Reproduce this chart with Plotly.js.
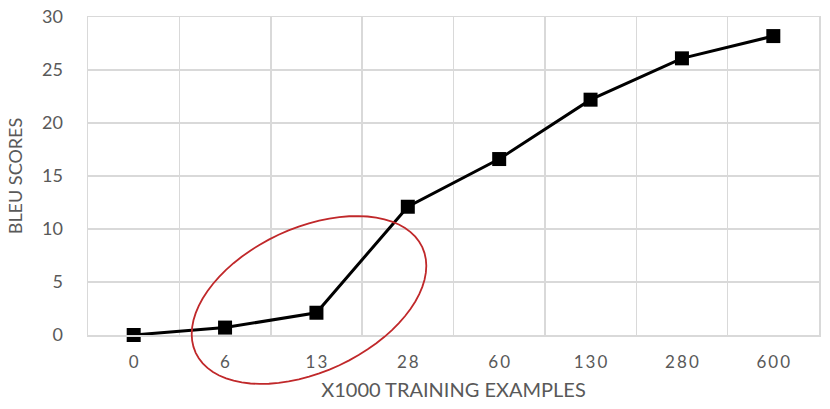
<!DOCTYPE html>
<html>
<head>
<meta charset="utf-8">
<script src="https://cdn.plot.ly/plotly-3.0.1.min.js"></script>
<style>html,body{margin:0;padding:0;background:#fff;}#chart{width:830px;height:409px;}</style>
</head>
<body>
<div id="chart"></div>
<script>
const categories = ["0", "6", "13", "28", "60", "130", "280", "600"];
const bleuScores = [0.0, 0.7, 2.1, 12.1, 16.6, 22.2, 26.1, 28.2];
const yTickValues = [0, 5, 10, 15, 20, 25, 30];
const xTitle = "X1000 TRAINING EXAMPLES";
const yTitle = "BLEU SCORES";

// spaced tick labels, as in the reference image
const tickLabels = categories.map(c => c.split("").join("\u2009"));

// highlight ellipse (paper coords), drawn around the 6 / 13 points
function ellipsePath(cx, cy, a, b, angDeg, W, H) {
  const th = angDeg * Math.PI / 180;
  let d = "";
  const n = 72;
  for (let i = 0; i <= n; i++) {
    const t = 2 * Math.PI * i / n;
    const px = cx + a * Math.cos(th) * Math.cos(t) - b * Math.sin(th) * Math.sin(t);
    const py = cy + a * Math.sin(th) * Math.cos(t) + b * Math.cos(th) * Math.sin(t);
    const ux = px / W, uy = py / H;
    d += (i === 0 ? "M" : "L") + ux.toFixed(5) + "," + uy.toFixed(5);
  }
  return d + "Z";
}

const L = 88, R = 11, T = 17, B = 74;
const W = 830 - L - R, H = 409 - T - B;
// ellipse centre & axes in plot pixels (from plot origin, y up)
const ell = ellipsePath(221, 35, 125, 72, 25, W, H);

const trace = {
  x: categories,
  y: bleuScores,
  type: "scatter",
  mode: "lines+markers",
  line: {color: "#000000", width: 3},
  marker: {symbol: "square", size: 14, color: "#000000"},
  cliponaxis: false,
  hoverinfo: "x+y"
};

const layout = {
  width: 830,
  height: 409,
  margin: {l: L, r: R, t: T, b: B},
  paper_bgcolor: "#ffffff",
  plot_bgcolor: "#ffffff",
  showlegend: false,
  font: {family: "Lato, 'Open Sans', sans-serif", color: "#595959", size: 17},
  xaxis: {
    type: "category",
    range: [-0.5, 7.5],
    tickson: "boundaries",
    tickvals: categories,
    ticktext: tickLabels,
    showgrid: true,
    gridcolor: "#d9d9d9",
    gridwidth: 1.5,
    showline: true,
    linecolor: "#d9d9d9",
    linewidth: 1.5,
    mirror: true,
    ticks: "",
    ticklen: 0,
    ticklabelstandoff: 11,
    tickfont: {size: 17, color: "#595959"},
    title: {text: xTitle, font: {size: 20, color: "#595959"}, standoff: 12},
    zeroline: false,
    fixedrange: true
  },
  yaxis: {
    range: [0, 30],
    tickvals: yTickValues,
    showgrid: true,
    gridcolor: "#d9d9d9",
    gridwidth: 1.5,
    showline: true,
    linecolor: "#d9d9d9",
    linewidth: 1.5,
    mirror: true,
    ticks: "",
    ticklabelstandoff: 20,
    tickfont: {size: 18, color: "#595959"},
    title: {text: yTitle, font: {size: 18, color: "#595959"}, standoff: 14},
    zeroline: false,
    fixedrange: true
  },
  shapes: [{
    type: "path",
    xref: "paper",
    yref: "paper",
    path: ell,
    line: {color: "#c0282a", width: 1.8},
    fillcolor: "rgba(0,0,0,0)",
    layer: "above"
  }]
};

Plotly.newPlot("chart", [trace], layout, {displayModeBar: false, staticPlot: true});
</script>
</body>
</html>
